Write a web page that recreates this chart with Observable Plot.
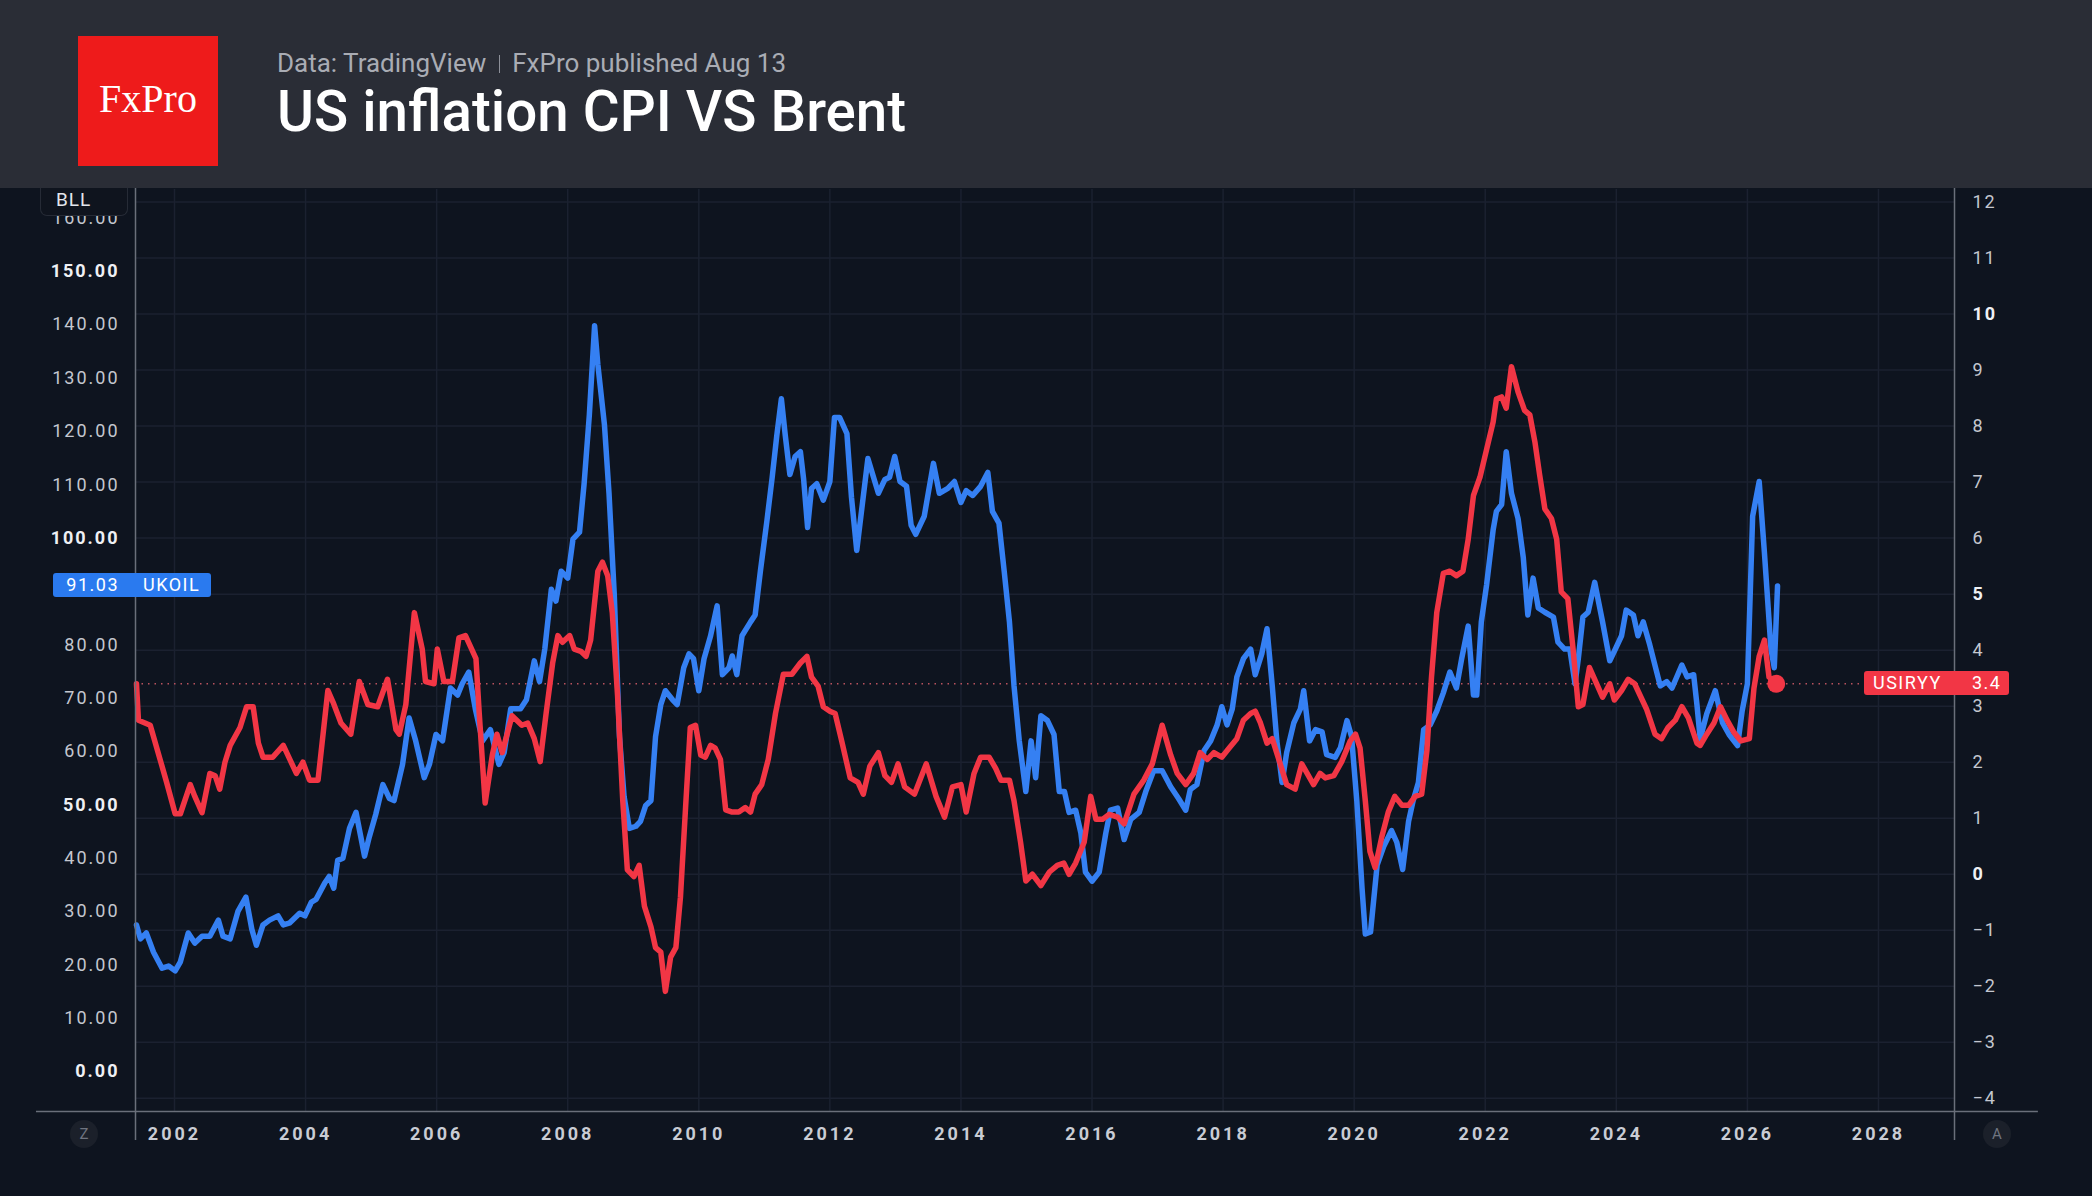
<!DOCTYPE html>
<html>
<head>
<meta charset="utf-8">
<script src="https://cdn.jsdelivr.net/npm/d3@7"></script>
<script src="https://cdn.jsdelivr.net/npm/@observablehq/plot@0.6"></script>
<style>
html,body{margin:0;padding:0;background:#0e141f;width:2092px;height:1196px;overflow:hidden;font-family:Roboto,"Noto Sans",sans-serif;}
#header{position:absolute;left:0;top:0;width:2092px;height:188px;background:#2a2d36;z-index:3;}
#logo{position:absolute;left:78px;top:36px;width:140px;height:130px;background:#ee1b1b;color:#fff;font-family:"Liberation Serif",serif;font-size:40px;display:flex;align-items:center;justify-content:center;box-sizing:border-box;padding-bottom:5px;}
#sub{position:absolute;left:277px;top:50px;font-size:26px;line-height:26px;color:#a9acb4;white-space:nowrap;}
#sub .sep{display:inline-block;width:1px;height:18px;background:#8d9099;margin:0 12px 0 13px;vertical-align:-1px;}
#title{position:absolute;left:277px;top:84px;font-size:56.5px;line-height:56px;color:#fff;white-space:nowrap;font-weight:500;}
#chart{position:absolute;left:0;top:188px;}
.tag{position:absolute;height:24px;line-height:24px;font-size:18px;color:#fff;letter-spacing:1.5px;border-radius:3px;white-space:nowrap;z-index:2;}
#bll{position:absolute;left:40px;top:184px;width:88px;height:32px;background:#0f141e;border:1px solid #262b36;border-top:none;border-radius:0 0 7px 7px;color:#e3e6ec;font-size:19px;line-height:28px;text-align:left;padding-left:15px;letter-spacing:1px;z-index:2;box-sizing:border-box;padding-top:2px;}
.btn{position:absolute;width:28px;height:28px;border-radius:14px;background:#1b202a;color:#6f7480;font-size:15px;line-height:28px;text-align:center;}
</style>
</head>
<body>
<div id="header">
  <div id="logo">FxPro</div>
  <div id="sub">Data: TradingView<span class="sep"></span>FxPro published Aug 13</div>
  <div id="title">US inflation CPI VS Brent</div>
</div>
<div id="bll">BLL</div>
<div id="chart"></div>
<div class="btn" style="left:70px;top:1120px;">Z</div>
<div class="btn" style="left:1983px;top:1120px;">A</div>
<script>
// ---- data ----
const brentYears = [2001.42,2001.48,2001.57,2001.68,2001.81,2001.91,2002.01,2002.09,2002.21,2002.31,2002.42,2002.54,2002.67,2002.74,2002.85,2002.97,2003.09,2003.18,2003.25,2003.35,2003.45,2003.58,2003.66,2003.76,2003.91,2003.99,2004.09,2004.16,2004.29,2004.36,2004.43,2004.49,2004.57,2004.67,2004.77,2004.9,2004.97,2005.07,2005.18,2005.28,2005.35,2005.48,2005.58,2005.68,2005.81,2005.89,2005.99,2006.09,2006.21,2006.32,2006.39,2006.49,2006.59,2006.7,2006.82,2006.95,2007.03,2007.13,2007.28,
2007.37,2007.49,2007.57,2007.65,2007.75,2007.82,2007.9,2008.0,2008.08,2008.18,2008.25,2008.33,2008.41,2008.46,2008.56,2008.63,2008.71,2008.79,2008.86,2008.94,2009.04,2009.11,2009.19,2009.27,2009.34,2009.42,2009.49,2009.6,2009.67,2009.77,2009.85,2009.92,2010.0,2010.08,2010.18,2010.28,2010.36,2010.46,2010.51,2010.58,2010.66,2010.79,2010.86,2010.94,2011.04,2011.12,2011.19,2011.26,2011.32,2011.39,2011.47,2011.55,2011.6,2011.66,2011.72,2011.8,2011.9,2012.0,2012.07,2012.15,2012.26,2012.33,2012.41,2012.58,2012.74,2012.84,2012.91,2012.99,2013.07,2013.17,2013.24,
2013.31,2013.44,2013.58,2013.67,2013.8,2013.9,2014.0,2014.08,2014.18,2014.3,2014.41,2014.48,2014.58,2014.66,2014.74,2014.81,2014.89,2014.99,2015.07,2015.14,2015.22,2015.32,2015.42,2015.5,2015.58,2015.65,2015.75,2015.83,2015.9,2016.0,2016.11,2016.21,2016.28,2016.39,2016.49,2016.59,2016.72,2016.82,2016.94,2017.07,2017.2,2017.32,2017.43,2017.5,2017.6,2017.71,2017.81,2017.91,2017.98,2018.06,2018.14,2018.21,2018.31,2018.42,2018.49,2018.59,2018.67,2018.75,2018.82,2018.9,2018.97,2019.08,2019.18,2019.23,
2019.32,2019.41,2019.51,2019.58,2019.71,2019.79,2019.89,2019.96,2020.04,2020.12,2020.17,2020.25,2020.35,2020.45,2020.57,2020.65,2020.74,2020.83,2020.9,2020.98,2021.06,2021.16,2021.26,2021.36,2021.46,2021.56,2021.64,2021.74,2021.82,2021.87,2021.94,2022.02,2022.12,2022.17,2022.25,2022.32,2022.4,2022.5,2022.58,2022.65,2022.73,2022.81,2022.91,2023.04,2023.11,2023.21,2023.29,2023.37,2023.42,2023.49,2023.57,2023.67,
2023.79,2023.9,2024.0,2024.08,2024.15,2024.26,2024.33,2024.41,2024.51,2024.67,2024.77,2024.85,2025.0,2025.08,2025.18,2025.23,2025.28,2025.38,2025.51,2025.62,2025.72,2025.85,2025.92,2026.0,2026.08,2026.18,2026.26,2026.36,2026.41,2026.46];
const brentValues = [27.5,24.9,26.0,22.4,19.4,19.8,18.9,20.6,26.0,24.1,25.4,25.4,28.4,25.4,24.9,30.1,32.7,26.7,23.7,27.5,28.4,29.2,27.5,27.9,29.7,29.2,31.8,32.3,35.3,36.6,34.4,39.6,40.0,45.6,48.6,40.4,43.9,48.2,53.8,51.2,50.8,57.6,66.3,62.0,55.1,57.6,63.2,62.0,71.9,70.6,72.7,74.9,68.0,62.0,64.1,57.6,59.8,68.0,68.0,
69.7,77.0,73.1,79.2,90.4,88.2,93.8,92.5,99.8,101.1,110.2,123.1,139.8,132.5,121.3,108.4,89.5,62.8,51.6,45.6,46.0,46.9,49.9,50.8,62.8,68.8,71.4,69.7,68.8,75.7,78.3,77.4,71.4,77.4,81.7,87.3,74.4,75.7,77.9,74.4,81.7,84.3,85.6,93.8,103.3,111.4,119.2,126.1,119.2,111.9,115.3,116.2,111.0,102.0,109.3,110.2,107.1,110.6,122.6,122.6,119.6,107.6,97.7,114.9,108.4,111.0,111.4,115.3,110.6,109.7,102.4,
100.7,104.1,114.0,108.4,109.3,110.6,106.7,108.9,108.0,109.7,112.3,105.0,102.8,93.8,84.3,72.3,62.0,52.5,62.0,55.1,66.7,65.8,63.2,52.5,52.5,48.6,49.0,44.7,37.4,35.7,37.4,44.7,49.0,49.4,43.5,47.3,48.6,52.5,56.4,56.4,53.4,51.2,49.0,52.9,53.8,60.2,62.0,65.0,68.4,65.0,68.0,74.0,77.4,79.2,74.4,78.3,83.0,72.3,62.0,54.2,59.8,65.4,68.0,71.4,
62.0,64.1,63.7,59.4,58.9,60.7,65.8,62.8,50.8,34.4,25.8,26.2,38.7,42.2,45.2,43.0,37.9,46.9,50.8,54.2,64.1,65.0,67.6,71.0,74.9,71.9,77.4,83.5,70.6,70.6,84.3,91.2,101.5,105.0,106.3,116.2,108.4,103.7,96.4,85.6,92.5,86.9,86.1,85.2,80.5,79.2,79.2,72.7,77.4,85.2,86.1,91.7,
84.3,77.0,79.6,81.7,86.5,85.6,81.7,84.3,80.0,72.3,73.1,71.9,76.2,74.0,74.4,68.8,62.4,67.1,71.4,65.4,63.2,61.1,67.6,72.7,104.1,110.6,97.2,79.2,75.7,91.03];

const cpiYears = [2001.42,2001.45,2001.63,2001.78,2001.88,2002.01,2002.09,2002.24,2002.31,2002.42,2002.54,2002.62,2002.69,2002.77,2002.85,2003.0,2003.1,2003.2,2003.28,2003.35,2003.5,2003.66,2003.76,2003.86,2003.96,2004.06,2004.19,2004.34,2004.42,2004.54,2004.69,2004.82,2004.95,2005.1,2005.25,2005.38,2005.43,2005.53,2005.66,2005.78,2005.83,2005.96,2006.01,2006.11,2006.24,2006.34,2006.44,2006.6,2006.65,2006.74,2006.85,2006.92,2007.0,2007.15,2007.3,
2007.39,2007.49,2007.58,2007.67,2007.77,2007.85,2007.92,2008.03,2008.1,2008.2,2008.28,2008.35,2008.46,2008.53,2008.61,2008.68,2008.76,2008.84,2008.91,2009.01,2009.09,2009.17,2009.27,2009.34,2009.42,2009.49,2009.57,2009.65,2009.72,2009.8,2009.87,2009.95,2010.03,2010.1,2010.18,2010.25,2010.33,2010.41,2010.51,2010.61,2010.71,2010.79,2010.86,2010.96,2011.06,2011.17,2011.29,2011.42,2011.55,2011.65,2011.72,2011.82,2011.9,2012.0,2012.08,2012.18,2012.31,2012.43,2012.51,2012.61,2012.74,2012.84,2012.94,2013.04,2013.14,
2013.29,2013.47,2013.62,2013.75,2013.87,2014.0,2014.08,2014.2,2014.3,2014.43,2014.53,2014.61,2014.74,2014.81,2014.91,2014.99,2015.09,2015.22,2015.35,2015.47,2015.57,2015.65,2015.75,2015.88,2015.98,2016.06,2016.16,2016.26,2016.39,2016.49,2016.64,2016.79,2016.92,2017.07,2017.2,2017.3,2017.43,2017.55,2017.65,2017.76,2017.86,2017.98,2018.09,2018.21,2018.31,2018.42,2018.49,2018.57,2018.67,2018.75,2018.85,2018.97,2019.1,2019.2,
2019.38,2019.48,2019.56,2019.69,2019.81,2019.94,2020.02,2020.09,2020.17,2020.24,2020.32,2020.42,2020.52,2020.62,2020.73,2020.83,2020.93,2021.03,2021.11,2021.18,2021.26,2021.36,2021.46,2021.56,2021.66,2021.74,2021.82,2021.92,2022.02,2022.12,2022.17,2022.25,2022.32,2022.4,2022.5,2022.6,2022.68,2022.76,2022.83,2022.91,2023.01,2023.09,2023.16,2023.26,2023.34,2023.42,2023.49,2023.59,
2023.79,2023.9,2023.97,2024.08,2024.18,2024.28,2024.36,2024.46,2024.59,2024.69,2024.79,2024.9,2025.0,2025.1,2025.23,2025.28,2025.38,2025.49,2025.59,2025.69,2025.79,2025.9,2026.03,2026.1,2026.18,2026.26,2026.33,2026.44];
const cpiValues = [3.40,2.75,2.66,2.05,1.64,1.08,1.08,1.6,1.39,1.1,1.8,1.76,1.52,2.0,2.3,2.62,2.99,2.99,2.34,2.09,2.09,2.3,2.05,1.8,2.0,1.68,1.68,3.28,3.07,2.7,2.5,3.44,3.03,2.99,3.48,2.58,2.5,3.03,4.67,4.02,3.44,3.4,4.02,3.44,3.44,4.22,4.26,3.85,2.87,1.27,2.13,2.5,2.17,2.83,2.66,
2.70,2.42,2.01,2.87,3.77,4.26,4.14,4.26,4.02,3.98,3.89,4.18,5.41,5.57,5.33,4.67,3.2,1.31,0.08,-0.04,0.16,-0.57,-0.94,-1.31,-1.39,-2.09,-1.48,-1.31,-0.41,1.23,2.62,2.66,2.13,2.09,2.3,2.25,2.05,1.15,1.11,1.11,1.19,1.11,1.43,1.6,2.05,2.87,3.57,3.57,3.77,3.89,3.52,3.36,2.99,2.91,2.87,2.38,1.72,1.64,1.43,1.93,2.17,1.76,1.64,1.97,1.56,
1.43,1.97,1.39,1.02,1.56,1.6,1.11,1.8,2.09,2.09,1.89,1.68,1.68,1.31,0.57,-0.12,0.0,-0.2,0.04,0.16,0.2,0.0,0.2,0.57,1.39,0.98,0.98,1.07,1.02,0.9,1.43,1.68,1.97,2.66,2.13,1.8,1.6,1.8,2.17,2.05,2.17,2.09,2.25,2.42,2.75,2.87,2.91,2.7,2.34,2.42,2.05,1.6,1.52,1.97,
1.6,1.8,1.72,1.76,2.01,2.38,2.5,2.25,1.31,0.41,0.12,0.66,1.11,1.39,1.23,1.23,1.39,1.43,2.21,3.52,4.67,5.37,5.41,5.33,5.41,5.98,6.76,7.09,7.58,8.07,8.48,8.52,8.32,9.06,8.61,8.28,8.2,7.7,7.13,6.52,6.35,5.98,5.04,4.92,4.02,2.99,3.03,3.69,
3.16,3.4,3.11,3.28,3.48,3.4,3.2,2.95,2.5,2.42,2.62,2.75,2.99,2.79,2.34,2.3,2.5,2.7,2.99,2.75,2.54,2.38,2.42,3.32,3.89,4.18,3.52,3.4];

// axis tick labels
const brentTicksNormal = [10,20,30,40,60,70,80,110,120,130,140,160];
const brentTicksBold = [0,50,100,150];
const cpiTicksNormal = [-4,-3,-2,-1,1,2,3,4,6,7,8,9,11,12];
const cpiTicksBold = [0,5,10];
const yearTicks = [2002,2004,2006,2008,2010,2012,2014,2016,2018,2020,2022,2024,2026,2028];
const brentName = "UKOIL", cpiName = "USIRYY";

// ---- the right (CPI) axis is linked to the left (Brent) axis ----
const LINK_K = 10.5, LINK_B = 37;
const toBrent = r => LINK_K * r + LINK_B;
const toCpi = l => (l - LINK_B) / LINK_K;

const brent = brentYears.map((year, i) => ({year, value: brentValues[i]}));
const cpi = cpiYears.map((year, i) => ({year, value: cpiValues[i]}));
const lastBrent = brent[brent.length - 1];
const lastCpi = cpi[cpi.length - 1];

const X0 = 2001.405, X1 = 2029.16, Y0 = -7.46, Y1 = 165.33;
const BLUE = "#3580f3", RED = "#f23645", GRID = "#1b2130", AXIS = "#6a6f7a";
const fmtCpi = l => { const r = Math.round(toCpi(l)); return r < 0 ? "\u2212" + (-r) : String(r); };

const chart = Plot.plot({
  width: 2092, height: 1008,
  marginTop: 1, marginBottom: 85, marginLeft: 135, marginRight: 138,
  style: {background: "transparent", color: "#c9ccd4", fontFamily: "Roboto, sans-serif", fontSize: "18px", overflow: "visible"},
  x: {type: "linear", domain: [X0, X1]},
  y: {type: "linear", domain: [Y0, Y1]},
  marks: [
    Plot.gridY([...cpiTicksNormal, ...cpiTicksBold].map(toBrent), {stroke: GRID, strokeOpacity: 1, strokeWidth: 1.5}),
    Plot.gridX(yearTicks, {stroke: GRID, strokeOpacity: 1, strokeWidth: 1.5}),
    Plot.ruleY([toBrent(lastCpi.value)], {stroke: "#b9525e", strokeWidth: 1.5, strokeDasharray: "1.5,5"}),
    Plot.line(brent, {x: "year", y: "value", stroke: BLUE, strokeWidth: 5.5, strokeLinejoin: "round", strokeLinecap: "round"}),
    Plot.line(cpi, {x: "year", y: d => toBrent(d.value), stroke: RED, strokeWidth: 5.5, strokeLinejoin: "round", strokeLinecap: "round"}),
    Plot.dot([lastCpi], {x: "year", y: d => toBrent(d.value), r: 9, fill: RED}),
    // axis lines (extend past the frame like the reference)
    Plot.ruleX([X0, X1], {y1: Y1 + 1, y2: -12.9, stroke: AXIS, strokeWidth: 1.5}),
    Plot.ruleY([Y0], {x1: 1999.894, x2: 2030.44, stroke: AXIS, strokeWidth: 1.5}),
    Plot.axisY(brentTicksNormal, {anchor: "left", tickSize: 0, tickPadding: 16, tickFormat: d => d.toFixed(2), fill: "#c4c7cf", fontSize: 18, label: null}),
    Plot.axisY(brentTicksBold, {anchor: "left", tickSize: 0, tickPadding: 16, tickFormat: d => d.toFixed(2), fill: "#eef0f4", fontWeight: "bold", fontSize: 18, label: null}),
    Plot.axisY(cpiTicksNormal.map(toBrent), {anchor: "right", tickSize: 0, tickPadding: 18, tickFormat: fmtCpi, fill: "#c4c7cf", fontSize: 18, label: null}),
    Plot.axisY(cpiTicksBold.map(toBrent), {anchor: "right", tickSize: 0, tickPadding: 18, tickFormat: fmtCpi, fill: "#eef0f4", fontWeight: "bold", fontSize: 18, label: null}),
    Plot.axisX(yearTicks, {anchor: "bottom", tickSize: 0, tickPadding: 16, tickFormat: d => String(d), fill: "#c9ccd4", fontWeight: "bold", fontSize: 18, label: null})
  ]
});
d3.select(chart).selectAll('g[aria-label="y-axis tick label"] text').attr("letter-spacing", "2px");
d3.select(chart).selectAll('g[aria-label="x-axis tick label"] text').attr("letter-spacing", "3px");
document.getElementById("chart").appendChild(chart);

// ---- price tags placed through the chart's scales ----
const TOP = 188;
const ys = chart.scale("y"), xs = chart.scale("x");
function tag(html, left, width, yCenter, bg) {
  const el = document.createElement("div");
  el.className = "tag";
  el.style.left = left + "px";
  el.style.width = width + "px";
  el.style.top = (yCenter - 12) + "px";
  el.style.background = bg;
  el.innerHTML = html;
  document.body.appendChild(el);
}
const axisLeft = xs.apply(X0), axisRight = xs.apply(X1);
const ukLeft = 53, ukWidth = 158;
tag(`<span style="position:absolute;right:${ukWidth - (axisLeft - 16 - ukLeft)}px;">${lastBrent.value.toFixed(2)}</span><span style="position:absolute;left:${axisLeft - ukLeft + 8}px;">${brentName}</span>`,
    ukLeft, ukWidth, ys.apply(lastBrent.value) + TOP, "#2a7aef");
tag(`<span style="position:absolute;left:9px;">${cpiName}</span><span style="position:absolute;left:${axisRight - 1864 + 18}px;">${lastCpi.value.toFixed(1)}</span>`,
    1864, 145, ys.apply(toBrent(lastCpi.value)) + TOP, RED);
</script>
</body>
</html>
